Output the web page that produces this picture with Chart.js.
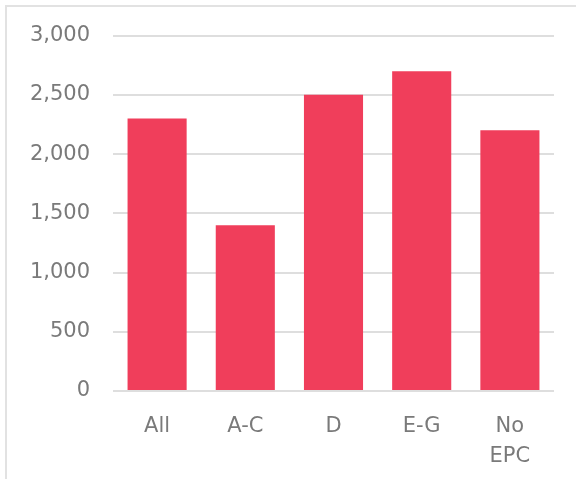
<!DOCTYPE html>
<html>
<head>
<meta charset="utf-8">
<script src="https://cdn.jsdelivr.net/npm/chart.js@4"></script>
<style>
  html, body { margin: 0; padding: 0; background: #fff; }
  #frame { position: absolute; left: 5px; top: 5px; width: 620px; height: 520px; border: 2px solid #e2e2e2; }
  #wrap { position: absolute; left: 0; top: 0; width: 576px; height: 479px; }
</style>
</head>
<body>
<div id="frame"></div>
<div id="wrap"><canvas id="mycanvas"></canvas></div>
<script>
var categories = ['All', 'A-C', 'D', 'E-G', ['No', 'EPC']];
var values = [2300, 1400, 2500, 2700, 2200];
var yTicks = [0, 500, 1000, 1500, 2000, 2500, 3000];

var ctx = document.getElementById('mycanvas');
var chart = new Chart(ctx, {
  type: 'bar',
  data: {
    labels: categories,
    datasets: [{
      data: values,
      backgroundColor: '#f03e5b',
      borderWidth: 0,
      barPercentage: 0.67,
      categoryPercentage: 1
    }]
  },
  options: {
    responsive: true,
    maintainAspectRatio: false,
    animation: false,
    layout: { padding: { top: 35, right: 22, bottom: 0, left: 0 } },
    plugins: { legend: { display: false }, tooltip: { enabled: false } },
    scales: {
      x: {
        grid: { display: false, drawTicks: false },
        border: { display: false },
        ticks: {
          color: '#7a7a7a', padding: 20,
          font: { family: 'DejaVu Sans', size: 21, lineHeight: 1.45 }
        },
        afterFit: function (s) { s.height = 88; }
      },
      y: {
        min: 0, max: 3000,
        afterBuildTicks: function (s) { s.ticks = yTicks.map(function (v) { return { value: v }; }); },
        grid: { color: '#dedede', lineWidth: 2, drawTicks: false },
        border: { display: false },
        ticks: {
          color: '#7a7a7a', padding: 23,
          font: { family: 'DejaVu Sans', size: 21 },
          callback: function (v) { return v.toLocaleString('en-US'); }
        },
        afterFit: function (s) { s.width = 113; }
      }
    }
  }
});
</script>
</body>
</html>
